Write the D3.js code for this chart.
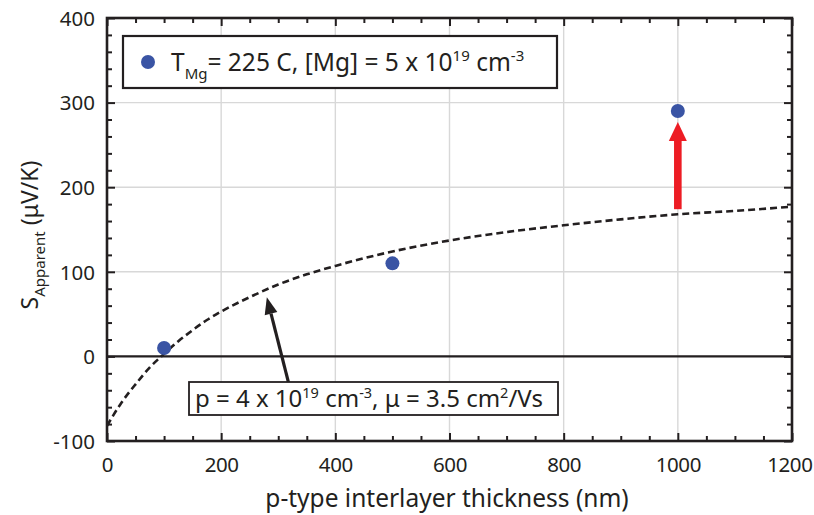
<!DOCTYPE html>
<html>
<head>
<meta charset="utf-8">
<script src="https://cdn.jsdelivr.net/npm/d3@7"></script>
<style>
  html, body { margin: 0; padding: 0; background: #fff; }
  svg { display: block; font-family: "Noto Sans", "Open Sans", sans-serif; }
</style>
</head>
<body>
<svg id="chart" width="814" height="515"></svg>
<script>
// Measured Seebeck coefficients vs. p-type interlayer thickness
const thickness = [100, 500, 1000];
const seebeck = [10, 110, 290];

// Model curve (dashed): thickness (nm) and S (µV/K)
const modelThickness = [0, 25, 50, 75, 100, 125, 150, 175, 200, 250, 300, 350, 400, 500, 600, 700, 800, 900, 1000, 1100, 1200];
const modelSeebeck = [-82, -55, -33, -13, 3, 18, 31, 43, 53, 70, 85, 97, 107, 124, 137, 147, 155, 162, 168, 172, 177];

// Axis ticks
const xTicks = [0, 200, 400, 600, 800, 1000, 1200];
const yTicks = [-100, 0, 100, 200, 300, 400];

const svg = d3.select("#chart");
const margin = { left: 107, right: 22, top: 18, bottom: 74 };
const W = 814, H = 515;

const x = d3.scaleLinear().domain([0, 1200]).range([margin.left, W - margin.right]);
const y = d3.scaleLinear().domain([-100, 400]).range([H - margin.bottom, margin.top]);

const x0 = x(0), x1 = x(1200), y0 = y(-100), y1 = y(400);

// Gridlines
const grid = svg.append("g").attr("stroke", "#d8d8d8").attr("stroke-width", 1.4);
grid.selectAll("line.gx").data(xTicks.slice(1, -1)).join("line")
  .attr("x1", d => x(d)).attr("x2", d => x(d)).attr("y1", y0).attr("y2", y1);
grid.selectAll("line.gy").data(yTicks.slice(1, -1)).join("line")
  .attr("y1", d => y(d)).attr("y2", d => y(d)).attr("x1", x0).attr("x2", x1);

// Zero line
svg.append("line").attr("x1", x0).attr("x2", x1).attr("y1", y(0)).attr("y2", y(0))
  .attr("stroke", "#231f20").attr("stroke-width", 2.2);

// Dashed model curve
const line = d3.line().x((d, i) => x(modelThickness[i])).y(d => y(d)).curve(d3.curveMonotoneX);
svg.append("path").datum(modelSeebeck).attr("d", line)
  .attr("fill", "none").attr("stroke", "#231f20").attr("stroke-width", 2.6)
  .attr("stroke-dasharray", "7,4");

// Axes with inward ticks (major + minor); negative numbers use a plain hyphen
const tickFmt = d => String(d).replace("\u2212", "-");
function addAxis(axisFn, scale, transform, ticks, minorTicks, showLabels) {
  const gMinor = svg.append("g").attr("transform", transform)
    .call(axisFn(scale).tickValues(minorTicks).tickSize(-5).tickFormat(""));
  gMinor.select(".domain").remove();
  gMinor.selectAll("line").attr("stroke", "#231f20").attr("stroke-width", 2);
  const g = svg.append("g").attr("transform", transform)
    .call(axisFn(scale).tickValues(ticks).tickSize(-8).tickPadding(12).tickFormat(showLabels ? tickFmt : ""));
  g.select(".domain").remove();
  g.selectAll("line").attr("stroke", "#231f20").attr("stroke-width", 2);
  g.selectAll("text").attr("font-size", 20.5).attr("fill", "#231f20")
    .attr("font-family", "'Noto Sans', sans-serif");
  return g;
}
const xMinor = d3.range(0, 1201, 50).filter(v => v % 200 !== 0);
const yMinor = d3.range(-100, 401, 20).filter(v => v % 100 !== 0);
const gx = addAxis(d3.axisBottom, x, `translate(0,${y0})`, xTicks, xMinor, true);
gx.selectAll("text").attr("dy", "0.92em").attr("letter-spacing", "-0.4");
// keep the last label inside the page
gx.selectAll(".tick").filter(d => d === 1200).select("text").attr("text-anchor", "end").attr("x", 20);
addAxis(d3.axisTop, x, `translate(0,${y1})`, xTicks, xMinor, false);
const gy = addAxis(d3.axisLeft, y, `translate(${x0},0)`, yTicks, yMinor, true);
gy.selectAll("text").attr("dy", "0.36em");
addAxis(d3.axisRight, y, `translate(${x1},0)`, yTicks, yMinor, false);

// Plot frame
svg.append("rect").attr("x", x0).attr("y", y1).attr("width", x1 - x0).attr("height", y0 - y1)
  .attr("fill", "none").attr("stroke", "#231f20").attr("stroke-width", 2.6);

// Black arrow from annotation box to the model curve
const bx1 = x(318), by1 = y(-31), bx2 = x(280), by2 = y(70);
const ang = Math.atan2(by2 - by1, bx2 - bx1);
const headLen = 17, headHalf = 6.5;
const hbx = bx2 - headLen * Math.cos(ang), hby = by2 - headLen * Math.sin(ang);
svg.append("line")
  .attr("x1", bx1).attr("y1", by1).attr("x2", hbx).attr("y2", hby)
  .attr("stroke", "#231f20").attr("stroke-width", 3.2);
svg.append("path")
  .attr("d", `M${bx2},${by2} L${hbx - headHalf * Math.sin(ang)},${hby + headHalf * Math.cos(ang)} L${hbx + headHalf * Math.sin(ang)},${hby - headHalf * Math.cos(ang)} Z`)
  .attr("fill", "#231f20");

// Red arrow: shift of the 1000 nm point above the model
const rx = x(1000), rBase = y(174), rTip = y(277);
svg.append("rect").attr("x", rx - 3.8).attr("y", rTip + 16).attr("width", 7.6).attr("height", rBase - rTip - 16)
  .attr("fill", "#ed1c24");
svg.append("path")
  .attr("d", `M${rx},${rTip} L${rx + 9},${rTip + 19} L${rx - 9},${rTip + 19} Z`)
  .attr("fill", "#ed1c24");

// Data points
svg.selectAll("circle.pt").data(thickness).join("circle")
  .attr("class", "pt")
  .attr("cx", d => x(d)).attr("cy", (d, i) => y(seebeck[i])).attr("r", 7)
  .attr("fill", "#3a54a4");

// Legend
svg.append("rect").attr("x", 123).attr("y", 36).attr("width", 434).attr("height", 52)
  .attr("fill", "#fff").attr("stroke", "#231f20").attr("stroke-width", 2.2);
svg.append("circle").attr("cx", 148).attr("cy", 62).attr("r", 7).attr("fill", "#3a54a4");
const lt = svg.append("text").attr("x", 171).attr("y", 71).attr("font-size", 24.5).attr("fill", "#231f20");
lt.append("tspan").text("T");
lt.append("tspan").attr("font-size", 15).attr("dy", 8).text("Mg");
lt.append("tspan").attr("dy", -8).text("= 225 C, [Mg] = 5 x 10");
lt.append("tspan").attr("font-size", 15).attr("dy", -10).text("19");
lt.append("tspan").attr("dy", 10).text(" cm");
lt.append("tspan").attr("font-size", 15).attr("dy", -10).text("-3");

// Annotation box
svg.append("rect").attr("x", 189).attr("y", 382).attr("width", 369).attr("height", 33)
  .attr("fill", "#fff").attr("stroke", "#231f20").attr("stroke-width", 1.8);
const at = svg.append("text").attr("x", 195).attr("y", 407).attr("font-size", 24).attr("fill", "#231f20");
at.append("tspan").text("p = 4 x 10");
at.append("tspan").attr("font-size", 14.5).attr("dy", -9).text("19");
at.append("tspan").attr("dy", 9).text(" cm");
at.append("tspan").attr("font-size", 14.5).attr("dy", -9).text("-3");
at.append("tspan").attr("dy", 9).text(",  μ = 3.5 cm");
at.append("tspan").attr("font-size", 14.5).attr("dy", -9).text("2");
at.append("tspan").attr("dy", 9).text("/Vs");

// Axis titles
svg.append("text").attr("x", 447).attr("y", 507).attr("text-anchor", "middle")
  .attr("font-size", 24.5).attr("fill", "#231f20").text("p-type interlayer thickness (nm)");
const yt = svg.append("text").attr("transform", `translate(38,235) rotate(-90)`)
  .attr("text-anchor", "middle").attr("font-size", 23).attr("fill", "#231f20");
yt.append("tspan").text("S");
yt.append("tspan").attr("font-size", 15).attr("dy", 7).text("Apparent");
yt.append("tspan").attr("dy", -7).text(" (μV/K)");
</script>
</body>
</html>
